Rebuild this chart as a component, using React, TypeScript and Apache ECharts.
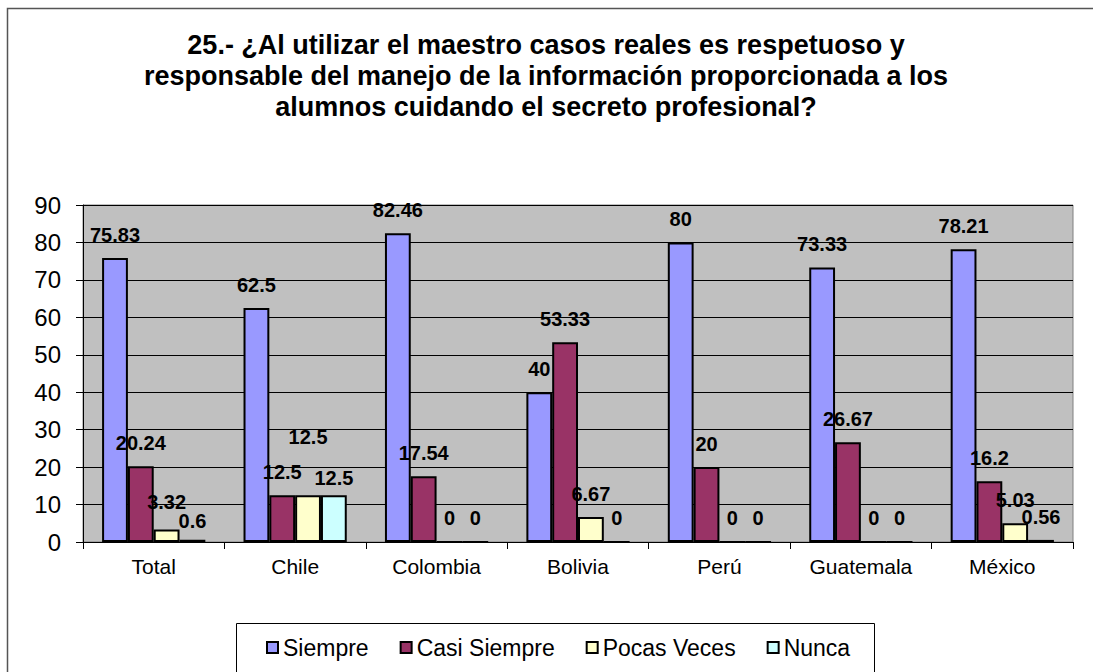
import React, { useEffect, useRef } from "react";
import * as echarts from "echarts";

const categories = ["Total", "Chile", "Colombia", "Bolivia", "Perú", "Guatemala", "México"];
const siempre = [75.83, 62.5, 82.46, 40, 80, 73.33, 78.21];
const casiSiempre = [20.24, 12.5, 17.54, 53.33, 20, 26.67, 16.2];
const pocasVeces = [3.32, 12.5, 0, 6.67, 0, 0, 5.03];
const nunca = [0.6, 12.5, 0, 0, 0, 0, 0.56];
const seriesNames = ["Siempre", "Casi Siempre", "Pocas Veces", "Nunca"];
const yTicks = { min: 0, max: 90, interval: 10 };
const titleText =
  "25.- ¿Al utilizar el maestro casos reales es respetuoso y\nresponsable del manejo de la información proporcionada a los\nalumnos cuidando el secreto profesional?";

const FONT = 'Arial, "Liberation Sans", sans-serif';

export default function App() {
  const ref = useRef<HTMLDivElement>(null);
  useEffect(() => {
    if (!ref.current) return;
    const chart = echarts.init(ref.current, undefined, { renderer: "svg" });
    const colors = ["#9999FF", "#993366", "#FFFFCC", "#CCFFFF"];
    const allData = [siempre, casiSiempre, pocasVeces, nunca];
    const labelBase = {
      show: true,
      position: "top",
      distance: 13,
      color: "#000",
      fontFamily: FONT,
      fontWeight: "bold",
      fontSize: 20,
    };
    const labelDistance: Record<string, number> = {
      "0-2": 18,
      "0-3": 9,
      "1-2": 48,
      "1-3": 7,
    };
    const series = allData.map((vals, si) => ({
      name: seriesNames[si],
      type: "bar",
      barGap: "0%",
      barCategoryGap: "27%",
      itemStyle: { color: colors[si], borderColor: "#000", borderWidth: 2 },
      label: labelBase,
      data: vals.map((v, ci) => {
        const d = labelDistance[`${ci}-${si}`];
        if (d !== undefined) return { value: v, label: { distance: d } };
        return v;
      }),
    }));
    chart.setOption({
      animation: false,
      backgroundColor: "#fff",
      graphic: [
        {
          type: "rect",
          shape: { x: 7.5, y: 8.5, width: 1200, height: 800 },
          style: { fill: "none", stroke: "#555", lineWidth: 1.5 },
          silent: true,
        },
        {
          type: "text",
          x: 546,
          y: 29,
          style: {
            text: titleText,
            align: "center",
            verticalAlign: "top",
            font: `bold 27px ${FONT}`,
            lineHeight: 31,
            fill: "#000",
          },
        },
        {
          type: "rect",
          shape: { x: 236.5, y: 623.5, width: 638, height: 100 },
          style: { fill: "#fff", stroke: "#000", lineWidth: 1 },
          silent: true,
          z: -1,
        },
      ],
      legend: {
        data: seriesNames,
        left: 266,
        top: 636,
        padding: 0,
        icon: "rect",
        itemWidth: 11,
        itemHeight: 11,
        itemGap: 31,
        textStyle: { fontFamily: FONT, fontSize: 23, color: "#000", padding: [0, 0, 0, 0] },
      },
      grid: {
        left: 83,
        right: 20,
        top: 205,
        bottom: 130,
        show: true,
        backgroundColor: "#C0C0C0",
        borderColor: "#808080",
        borderWidth: 1,
        containLabel: false,
      },
      xAxis: {
        type: "category",
        data: categories,
        axisLine: { lineStyle: { color: "#000", width: 1 } },
        axisTick: { show: true, length: 7, lineStyle: { color: "#000" } },
        axisLabel: { color: "#000", fontFamily: FONT, fontSize: 21, margin: 14 },
      },
      yAxis: {
        type: "value",
        min: yTicks.min,
        max: yTicks.max,
        interval: yTicks.interval,
        axisLine: { show: true, lineStyle: { color: "#000", width: 1 } },
        axisTick: { show: true, length: 7, lineStyle: { color: "#000" } },
        splitLine: { lineStyle: { color: "#000", width: 1 } },
        axisLabel: { color: "#000", fontFamily: FONT, fontSize: 24, margin: 22 },
      },
      series,
    });
    return () => chart.dispose();
  }, []);
  return (
    <div
      ref={ref}
      style={{ position: "fixed", left: 0, top: 0, width: 1093, height: 672 }}
    />
  );
}
